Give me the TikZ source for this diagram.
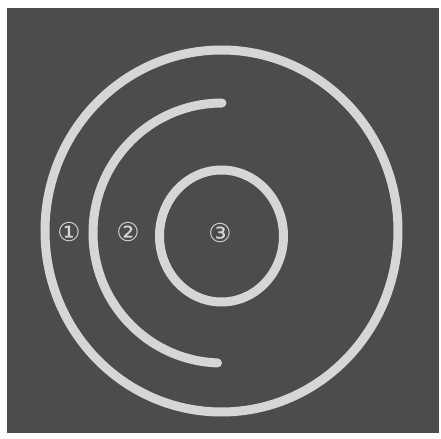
\documentclass[tikz,border=0pt]{standalone}
\usepackage{fontspec}
\newfontfamily\symfont{DejaVu Sans}
\definecolor{board}{HTML}{4B4D4C}
\definecolor{chalk}{HTML}{D6D6D6}
\begin{document}
\begin{tikzpicture}[
    x=0.5pt, y=-0.5pt,
    ring/.style={draw=chalk, line width=4.5pt, line cap=round},
    tag/.style={text=chalk, font=\symfont\fontsize{13}{15}\selectfont, inner sep=0pt}
]
    \useasboundingbox (0,0) rectangle (441,439);
    \fill[board] (7,8) rectangle (439,433);

    % rings
    \draw[ring] (221.5,231) ellipse [x radius=176.5, y radius=181];
    \draw[ring] (222,103) arc[start angle=-90, end angle=-268, x radius=129, y radius=130];
    \draw[ring] (221.5,236) ellipse [x radius=62, y radius=66];

    % labels
    \node[tag] (one) at (69,232) {①};
    \node[tag] (two) at (128,232) {②};
    \node[tag] (three) at (220,233) {③};
\end{tikzpicture}
\end{document}
